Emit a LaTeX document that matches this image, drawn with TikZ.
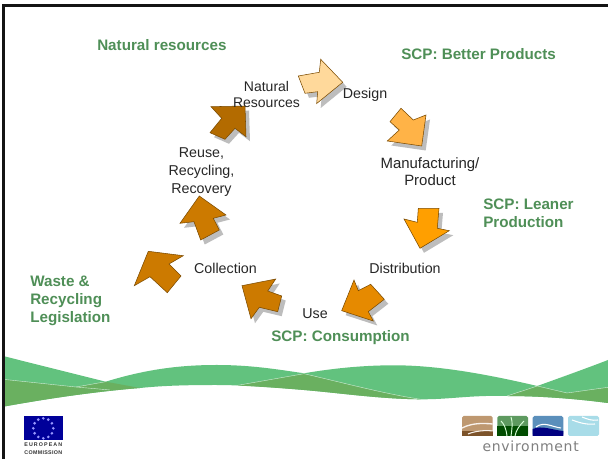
\documentclass[tikz,border=0pt]{standalone}
\usepackage{fontspec}
\setmainfont{Liberation Sans}
\newfontfamily\envfont[LetterSpace=5]{DejaVu Sans}
\newfontfamily\eufonta[LetterSpace=20]{Liberation Sans}
\newfontfamily\eufontb[LetterSpace=6]{Liberation Sans}
\definecolor{gtxt}{HTML}{4F8F57}
\definecolor{wlight}{HTML}{62C27E}
\definecolor{wdark}{HTML}{6AB060}
\definecolor{edge}{HTML}{7A4A00}
\definecolor{shade}{HTML}{BDBDBD}
\definecolor{c1}{HTML}{FFD99B}
\definecolor{c2}{HTML}{FFB347}
\definecolor{c3}{HTML}{FF9F00}
\definecolor{c4}{HTML}{E68A00}
\definecolor{c5}{HTML}{CC7A00}
\definecolor{c7}{HTML}{B36B00}
\tikzset{
 lbl/.style={font=\fontsize{10.7}{12.4}\selectfont,text=black!85,align=center,inner sep=0pt},
 scp/.style={font=\fontsize{11.4}{13.5}\bfseries\selectfont,text=gtxt,align=left,inner sep=0pt},
 arr/.style={draw=edge,line width=0.4pt,fill=#1,line join=miter},
 shd/.style={fill=shade,draw=none,shift={(4,4.5)}},
 envtile/.style={rounded corners=1.2pt,draw=none},
 hair/.style={draw=white!70!wlight,line width=0.3pt}
}
\begin{document}
\begin{tikzpicture}[x=0.75pt,y=-0.75pt]
\useasboundingbox (0,0) rectangle (608,459);
\fill[white] (0,0) rectangle (608,459);
% waves
\fill[wlight] (3,356) -- (105.7,381.7) .. controls (150,368) and (185,365) .. (216.7,365)
  .. controls (250,365) and (275,369) .. (304,373.3)
  .. controls (335,368) and (365,365.3) .. (394,365.3)
  .. controls (440,365.3) and (490,375) .. (537.3,386)
  .. controls (565,376) and (590,367) .. (608,360)
  -- (608,403) .. controls (570,398) and (535,396) .. (507,396)
  .. controls (470,395) and (450,399.5) .. (420.7,399.3)
  .. controls (380,399) and (340,393) .. (304,390)
  .. controls (270,387) and (240,385) .. (216,385)
  .. controls (180,385) and (160,386) .. (140,388)
  .. controls (90,392) and (40,400) .. (3,406.7) -- cycle;
\fill[wdark] (3,379.3) -- (76,387) -- (105.7,381.7) -- (140,388)
  .. controls (90,392) and (40,400) .. (3,406.7) -- cycle;
\fill[wdark] (236.7,385.5) -- (304,373.7) .. controls (340,382) and (385,394) .. (420.7,399.3)
  .. controls (380,399) and (340,393) .. (304,390)
  .. controls (280,388) and (258,386.5) .. (236.7,385.5) -- cycle;
\fill[wdark] (507,396) -- (537.3,386) -- (567,393) -- (608,387.3) -- (608,403)
  .. controls (570,398) and (535,396) .. (507,396) -- cycle;
\draw[hair] (3,379.3) -- (76,387) -- (105.7,381.7);
\draw[hair] (76,387) -- (110,390);
\draw[hair] (236.7,385.5) -- (304,373.7) .. controls (340,382) and (385,394) .. (420.7,399.3);
\draw[hair] (507,396) -- (537.3,386) -- (567,393) -- (608,387.3);
% frame
\draw[line width=2.25pt,black!92] (3.2,459) -- (3.2,5.8) -- (608,5.8);
% arrows
\newcommand{\arrA}{(298.3,76) -- (319.3,72.3) -- (320.7,59.3) -- (342.7,82.3) -- (316.7,103.5) -- (317.7,91.7) -- (305,93.3) -- cycle}
\newcommand{\arrB}{(401,108.3) -- (413.3,120) -- (426,115) -- (421.7,146) -- (387.3,141) -- (399.3,130) -- (390,121.7) -- cycle}
\newcommand{\arrC}{(418.3,208.3) -- (439,208.3) -- (437.3,228.3) -- (449.3,230.7) -- (420,248.3) -- (404,219) -- (417.3,222.3) -- cycle}
\newcommand{\arrD}{(354,280) -- (358.3,290.7) -- (370.7,284.3) -- (384.3,299.3) -- (368.3,311.7) -- (373.3,321) -- (341.7,310.7) -- cycle}
\newcommand{\arrE}{(242,285.7) -- (275.7,279) -- (267.7,291) -- (281.7,296) -- (277.7,311.7) -- (259.3,307.3) -- (251,318.7) -- cycle}
\newcommand{\arrF}{(199.3,196) -- (226,215) -- (213.3,218.3) -- (219.3,230) -- (200.7,240) -- (194,221.7) -- (180,223.3) -- cycle}
\newcommand{\arrG}{(211,106.7) -- (245,106) -- (246,136.7) -- (235,128.3) -- (225,139.3) -- (210,132.7) -- (221.7,118.3) -- cycle}
\path[shd] \arrA; \draw[arr=c1] \arrA;
\path[shd] \arrB; \draw[arr=c2] \arrB;
\path[shd] \arrC; \draw[arr=c3] \arrC;
\path[shd] \arrD; \draw[arr=c4] \arrD;
\path[shd] \arrE; \draw[arr=c5] \arrE;
\path[shd] \arrF; \draw[arr=c5] \arrF;
\path[shd] \arrG; \draw[arr=c7] \arrG;
\draw[arr=c5] (148.3,251.3) -- (183.3,255.7) -- (169,264) -- (181,276) -- (167.3,292.7) -- (150,276.7) -- (134.3,285.7) -- cycle;
% labels
\node[lbl,font=\fontsize{10.5}{12.2}\selectfont] (natres) at (266.5,94.5) {Natural\\Resources};
\node[lbl] (design) at (365,95) {Design};
\node[lbl,font=\fontsize{11.2}{12.8}\selectfont] (manu) at (430,172) {Manufacturing/\\Product};
\node[lbl] (dist) at (405,268.5) {Distribution};
\node[lbl] (use) at (315,314) {Use};
\node[lbl] (coll) at (225.5,268.5) {Collection};
\node[lbl,font=\fontsize{10.7}{13.5}\selectfont] (reuse) at (201.5,172.5) {Reuse,\\Recycling,\\Recovery};
\node[scp,anchor=west] (t1) at (97,45) {Natural resources};
\node[scp,anchor=west] (t2) at (401,54) {SCP: Better Products};
\node[scp,anchor=north west] (t3) at (483,198.5) {SCP: Leaner\\Production};
\node[scp,anchor=west] (t4) at (271,338) {SCP: Consumption};
\node[scp,anchor=north west] (t5) at (30,275.5) {Waste \&\\Recycling\\Legislation};
% EU logo
\fill[fill=blue!60!black] (24,416) rectangle (62.7,440);
\foreach \i in {0,30,...,330} \fill[white!60!blue] ({43.3+10*cos(\i)},{428.3+10*sin(\i)}) circle (1.1pt);
\node[inner sep=0pt,font=\fontsize{4}{6}\bfseries\selectfont,align=center,text=black!80] (eu) at (43.3,449) {{\eufonta EUROPEAN}\\{\eufontb COMMISSION}};
% environment logo
\definecolor{t1c}{HTML}{BE9870}\definecolor{t2c}{HTML}{5E9A60}\definecolor{t3c}{HTML}{5B8FBB}\definecolor{t4c}{HTML}{A8DCE8}
\fill[envtile,fill=t1c] (462,416) rectangle (492.7,436);
\fill[envtile,fill=t2c] (497.3,416) rectangle (528,436);
\fill[envtile,fill=t3c] (532.7,416) rectangle (563.3,436);
\fill[envtile,fill=t4c] (568,416) rectangle (599,436);
\fill[brown!65!black] (462,431) rectangle (492.7,436);
\draw[white!90!brown,line width=1pt] (462,428) .. controls (472,423) and (482,423) .. (492.7,424);
\draw[white!90!brown,line width=0.8pt] (468,434) .. controls (475,431) and (485,430) .. (492.7,431);
\fill[green!30!black] (497.3,426) rectangle (528,436);
\draw[white!85!green,line width=0.7pt] (507,436) .. controls (506,428) and (504,424) .. (501,421);
\draw[white!85!green,line width=0.7pt] (511,436) .. controls (512,428) and (513,423) .. (511,417);
\draw[white!85!green,line width=0.7pt] (515,436) .. controls (516,430) and (520,425) .. (524,421);
\fill[blue!50!black] (532.7,436) -- (532.7,429) .. controls (542,425) and (552,430) .. (563.3,431) -- (563.3,436) -- cycle;
\draw[white,line width=0.8pt] (536,427) .. controls (544,421) and (552,427) .. (561,428);
\draw[white,line width=0.8pt] (572,420) .. controls (578,422) and (585,425) .. (595,424);
\draw[white,line width=0.8pt] (582,417) .. controls (587,419) and (592,421) .. (598,420);
\node[inner sep=0pt,font=\envfont\fontsize{10.5}{13}\selectfont,text=black!50] (env) at (530.7,446) {environment};
\end{tikzpicture}
\end{document}
